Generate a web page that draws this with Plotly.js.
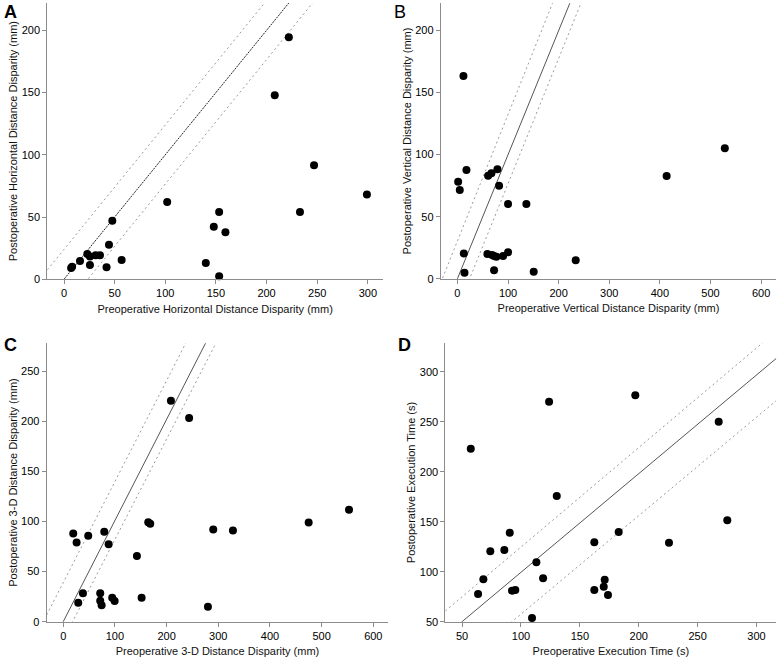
<!DOCTYPE html>
<html>
<head>
<meta charset="utf-8">
<script src="https://cdn.plot.ly/plotly-3.0.1.min.js"></script>
<style>html,body{margin:0;padding:0;background:#fff;}#chart{width:778px;height:661px;}</style>
</head>
<body>
<div id="chart"></div>
<script>
// Panel A: horizontal distance disparity (mm)
const aPre  = [7, 8, 15.8, 23, 25.6, 31.2, 35.5, 25.6, 44.4, 47.7, 42, 56.9, 101.9, 140, 147.9, 153.2, 159.4, 153.2, 208.1, 222, 246.9, 233, 299.1];
const aPost = [9, 10, 14.7, 20.3, 18.2, 19.3, 19.3, 11.5, 27.8, 47, 9.6, 15.5, 62, 13.1, 42.2, 54, 37.7, 2.4, 147.9, 194.5, 91.7, 54, 68.2];
// Panel B: vertical distance disparity (mm)
const bPre  = [11.9, 1.4, 4.6, 17.8, 12.6, 13.9, 60.6, 67.1, 79, 82.3, 100, 136.2, 59.2, 68.5, 72.4, 77, 90.2, 100, 72.4, 150.7, 233.7, 413.3, 528.3];
const bPost = [163.4, 78.2, 71.5, 87.6, 20.4, 4.8, 83, 84.9, 88.2, 75, 60.2, 60.2, 19.9, 19.1, 18.3, 17.7, 18.3, 21.3, 6.7, 5.6, 14.8, 82.8, 105.1];
// Panel C: 3-D distance disparity (mm)
const cPre  = [208.4, 243.6, 19.4, 25.9, 48.4, 79.4, 87.9, 142.6, 164.5, 168.4, 290.3, 328.4, 474.9, 553, 38.1, 29, 71.6, 71.6, 74.3, 94.8, 99.5, 151.7, 280];
const cPost = [220.7, 203.4, 88, 79, 85.7, 89.7, 77.4, 65.7, 99.4, 97.7, 92, 91, 99, 111.7, 28.4, 19, 28.4, 21, 16.4, 24, 20.7, 24, 15];
// Panel D: execution time (s)
const dPre  = [57.4, 123.9, 197.1, 267.9, 275.2, 130.4, 90.5, 74, 85.9, 68.1, 63.6, 92.4, 95.2, 113.1, 118.8, 109.4, 162.3, 162.3, 171.1, 170.3, 173.9, 183, 225.7];
const dPost = [223, 270, 276.4, 250, 151.4, 175.7, 139, 120.4, 121.7, 92.4, 77.7, 81, 81.7, 109.4, 93.4, 53.7, 129.4, 81.7, 92, 85, 76.7, 139.7, 129];

// Reference lines per panel: [slope, intercept] for centre, upper, lower
const aLines = {centre: [1, 0], upper: [1, 24], lower: [1, -23.5]};
const bLines = {centre: [1, 0], upper: [1.02, 30.4], lower: [1.01, -24.4]};
const cLines = {centre: [1.01, 0], upper: [1.009, 39], lower: [1.003, -18.2]};
const dLines = {centre: [0.987, 0.65], upper: [0.9955, 25.06], lower: [0.985, -41]};

const panels = [
  {id: '', pre: aPre, post: aPost, lines: aLines, xr: [-16.5, 315], yr: [0, 222], xt: [0, 50, 100, 150, 200, 250, 300], yt: [0, 50, 100, 150, 200],
   xd: [0.0608, 0.4923], yd: [0.5775, 0.9955], xtitle: 'Preoperative Horizontal Distance Disparity (mm)', ytitle: 'Postoperative Horizontal Distance Disparity (mm)', centreDash: 'dot', centreColor: '#222'},
  {id: '2', pre: bPre, post: bPost, lines: bLines, xr: [-33, 630], yr: [0, 222], xt: [0, 100, 200, 300, 400, 500, 600], yt: [0, 50, 100, 150, 200],
   xd: [0.5665, 0.9978], yd: [0.5784, 0.995], xtitle: 'Preoperative Vertical Distance Disparity (mm)', ytitle: 'Postoperative Vertical Distance Disparity (mm)', centreDash: 'solid', centreColor: '#555'},
  {id: '3', pre: cPre, post: cPost, lines: cLines, xr: [-32, 629], yr: [0, 278], xt: [0, 100, 200, 300, 400, 500, 600], yt: [0, 50, 100, 150, 200, 250],
   xd: [0.060, 0.4991], yd: [0.0595, 0.4806], xtitle: 'Preoperative 3-D Distance Disparity (mm)', ytitle: 'Postoperative 3-D Distance Disparity (mm)', centreDash: 'solid', centreColor: '#555'},
  {id: '4', pre: dPre, post: dPost, lines: dLines, xr: [35.8, 316.8], yr: [50, 328.4], xt: [50, 100, 150, 200, 250, 300], yt: [50, 100, 150, 200, 250, 300],
   xd: [0.5724, 0.9978], yd: [0.0595, 0.4806], xtitle: 'Preoperative Execution Time (s)', ytitle: 'Postoperative Execution Time (s)', centreDash: 'solid', centreColor: '#555'}
];

const traces = [];
const layout = {
  width: 778, height: 661,
  margin: {l: 0, r: 0, t: 0, b: 0},
  paper_bgcolor: '#fff', plot_bgcolor: '#fff',
  showlegend: false,
  font: {family: 'Liberation Sans, Arial, sans-serif', size: 11, color: '#111'},
  annotations: []
};

panels.forEach(p => {
  const xa = 'x' + p.id, ya = 'y' + p.id;
  const lineDefs = [
    {k: 'upper', dash: '2px,3px', color: '#9a9a9a', w: 1},
    {k: 'lower', dash: '2px,3px', color: '#9a9a9a', w: 1},
    {k: 'centre', dash: p.centreDash === 'dot' ? '2px,1px' : 'solid', color: p.centreColor, w: 1}
  ];
  lineDefs.forEach(d => {
    const [m, b] = p.lines[d.k];
    const xs = [p.xr[0], p.xr[1]];
    traces.push({x: xs, y: xs.map(v => m * v + b), xaxis: xa, yaxis: ya, mode: 'lines',
      line: {color: d.color, width: d.w, dash: d.dash}, hoverinfo: 'skip'});
  });
  traces.push({x: p.pre, y: p.post, xaxis: xa, yaxis: ya, mode: 'markers', cliponaxis: false,
    marker: {color: '#000', size: 8, line: {width: 0}}});

  const common = {showgrid: false, zeroline: false, showline: true, linecolor: '#8c8c8c', linewidth: 1,
    ticks: 'outside', ticklen: 4, tickcolor: '#8c8c8c', tickfont: {size: 11, color: '#000'}, automargin: false, fixedrange: true};
  layout['xaxis' + p.id] = Object.assign({}, common, {domain: p.xd, range: p.xr, tickvals: p.xt, anchor: ya,
    title: {text: p.xtitle, font: {size: 11, color: '#111'}, standoff: 6}});
  layout['yaxis' + p.id] = Object.assign({}, common, {domain: p.yd, range: p.yr, tickvals: p.yt, anchor: xa,
    title: {text: p.ytitle, font: {size: 11, color: '#111'}, standoff: 1}});
});

const letters = [
  {t: 'A', x: 2, y: 0, bold: true},
  {t: 'B', x: 392, y: 0, bold: false},
  {t: 'C', x: 2, y: 333, bold: true},
  {t: 'D', x: 396, y: 333, bold: true}
];
letters.forEach(l => {
  layout.annotations.push({text: l.bold ? '<b>' + l.t + '</b>' : l.t, xref: 'paper', yref: 'paper',
    x: l.x / 778, y: 1 - l.y / 661, xanchor: 'left', yanchor: 'top', showarrow: false,
    font: {size: 18, color: '#000'}});
});

Plotly.newPlot('chart', traces, layout, {displayModeBar: false, staticPlot: true});
</script>
</body>
</html>
